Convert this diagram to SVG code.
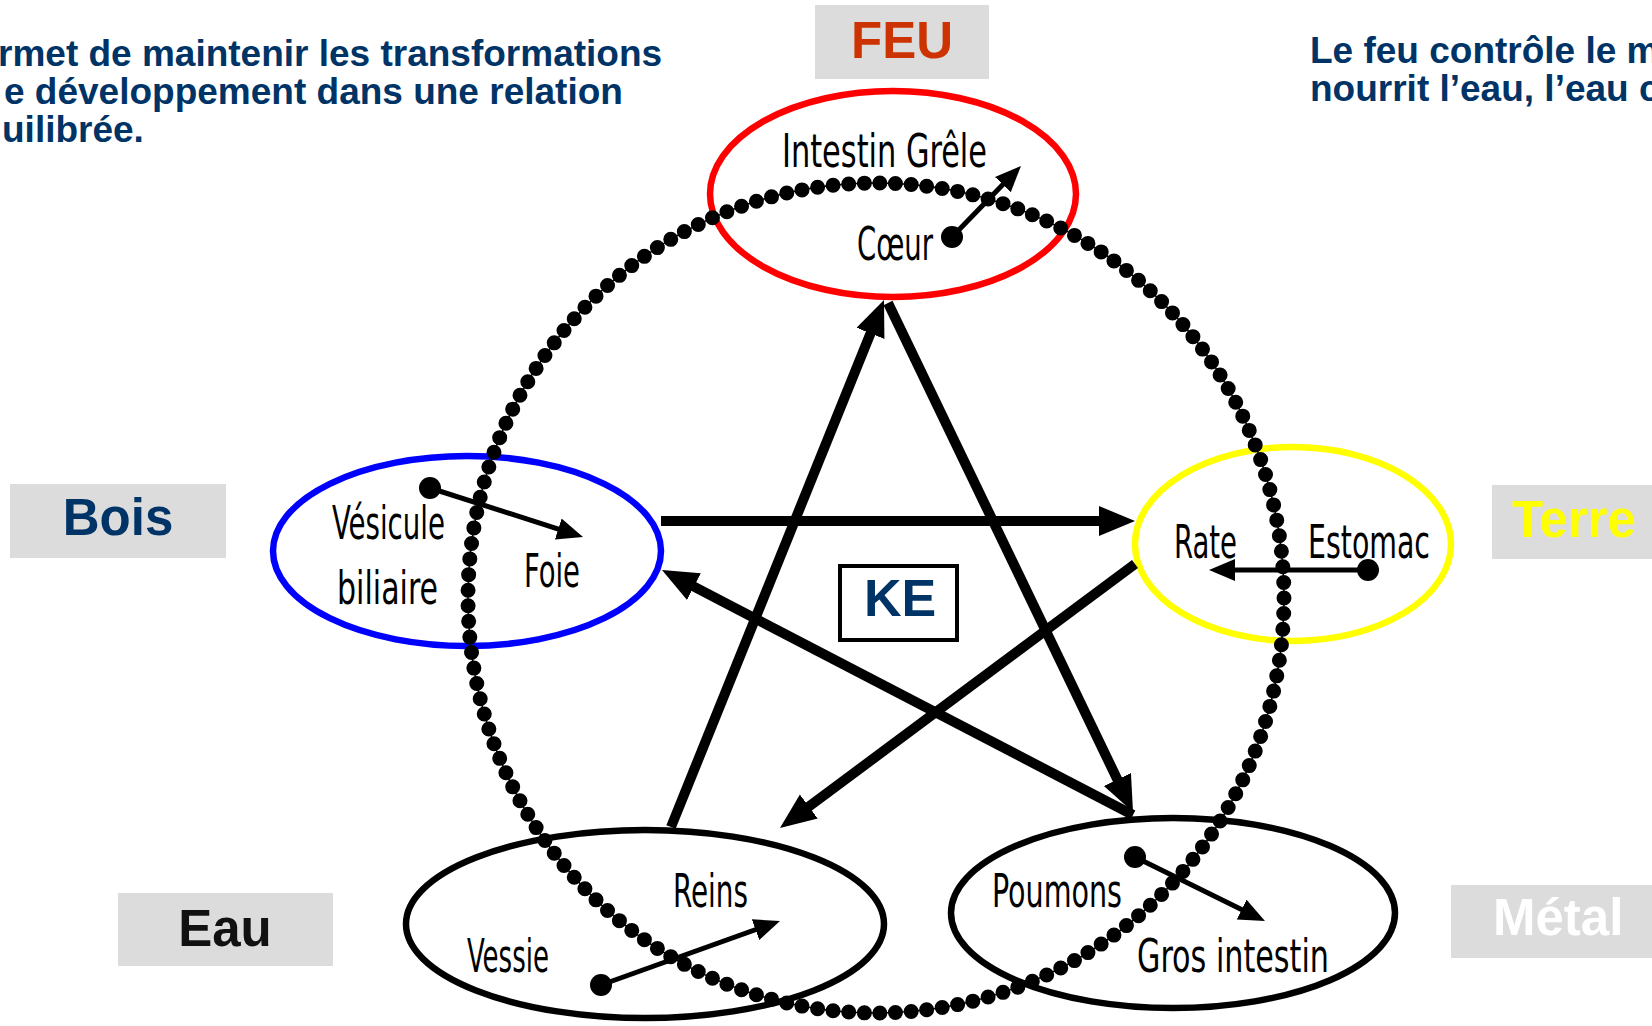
<svg xmlns="http://www.w3.org/2000/svg" width="1652" height="1026" viewBox="0 0 1652 1026">
<style>
.hdr{font-family:"Liberation Sans",Arial,sans-serif;font-weight:bold;font-size:37px;fill:#003366}
.lbl{font-family:"Liberation Sans",Arial,sans-serif;font-weight:bold;font-size:51px}
.box{fill:#DCDCDC}
.org{font-family:"Liberation Sans Narrow","DejaVu Sans Condensed","Liberation Sans",sans-serif;font-size:46px;fill:#000}
.ell{fill:none;stroke-width:6.5}
.star{stroke:#000;stroke-width:10;fill:none;marker-end:url(#bigHead)}
.small{stroke:#000;stroke-width:5;fill:none;marker-end:url(#smallHead)}
.dot{fill:#000}
</style>
<defs>
<marker id="bigHead" markerUnits="userSpaceOnUse" markerWidth="40" markerHeight="34" refX="20" refY="15" orient="auto" viewBox="0 0 40 34">
<path d="M0,0 L36,15 L0,30 z" fill="#000"/>
</marker>
<marker id="smallHead" markerUnits="userSpaceOnUse" markerWidth="30" markerHeight="26" refX="14" refY="11" orient="auto" viewBox="0 0 30 26">
<path d="M0,0 L26,11 L0,22 z" fill="#000"/>
</marker>
</defs>
<rect width="1652" height="1026" fill="#fff"/>

<g id="text-left">
<text class="hdr" x="-2" y="66">rmet de maintenir les transformations</text>
<text class="hdr" x="4" y="104">e développement dans une relation</text>
<text class="hdr" x="2" y="142">uilibrée.</text>
</g>
<g id="text-right">
<text class="hdr" x="1310" y="63">Le feu contrôle le m</text>
<text class="hdr" x="1310" y="101">nourrit l’eau, l’eau c</text>
</g>

<g id="label-feu"><rect class="box" x="815" y="5" width="174" height="74"/><text class="lbl" x="902" y="58" text-anchor="middle" fill="#CC3300">FEU</text></g>
<g id="label-bois"><rect class="box" x="10" y="484" width="216" height="74"/><text class="lbl" x="118" y="535" text-anchor="middle" fill="#003366">Bois</text></g>
<g id="label-terre"><rect class="box" x="1492" y="485" width="170" height="74"/><text class="lbl" x="1512" y="537" fill="#FFFF00">Terre</text></g>
<g id="label-eau"><rect class="box" x="118" y="893" width="215" height="73"/><text class="lbl" x="225" y="946" text-anchor="middle" fill="#111">Eau</text></g>
<g id="label-metal"><rect class="box" x="1451" y="885" width="211" height="73"/><text class="lbl" x="1493" y="935" fill="#fff">Métal</text></g>

<g id="node-feu">
<ellipse class="ell" cx="893" cy="194" rx="183" ry="103" stroke="#FF0000"/>
</g>
<g id="node-bois">
<ellipse class="ell" cx="467" cy="551" rx="194" ry="95" stroke="#0000FF"/>
</g>
<g id="node-terre">
<ellipse class="ell" cx="1293" cy="544" rx="158" ry="97" stroke="#FFFF00"/>
</g>
<g id="node-eau">
<ellipse class="ell" cx="645" cy="924" rx="239" ry="94" stroke="#000"/>
</g>
<g id="node-metal">
<ellipse class="ell" cx="1173" cy="913" rx="222" ry="95" stroke="#000"/>
</g>

<g id="connectors">
<g id="sheng-cycle">
<ellipse cx="876" cy="598" rx="408" ry="415" fill="none" stroke="#000" stroke-width="1.5"/>
<ellipse cx="876" cy="598" rx="408" ry="415" fill="none" stroke="#000" stroke-width="15" stroke-linecap="round" pathLength="165" stroke-dasharray="0 1"/>
</g>
<g id="ke-cycle">
<line class="star" x1="671" y1="827" x2="878" y2="314.8"/>
<line class="star" x1="888" y1="303" x2="1126.1" y2="797.6"/>
<line class="star" x1="1133" y1="815" x2="676.2" y2="577.4"/>
<line class="star" x1="661" y1="521" x2="1119" y2="521"/>
<line class="star" x1="1135" y1="564" x2="792.8" y2="818.5"/>
</g>
</g>

<g id="organs-feu">
<text class="org" x="782" y="167" textLength="205" lengthAdjust="spacingAndGlyphs">Intestin  Grêle</text>
<text class="org" x="857" y="260" textLength="76" lengthAdjust="spacingAndGlyphs">Cœur</text>
<line class="small" x1="952" y1="237" x2="1012.6" y2="174.6"/>
<circle class="dot" cx="952" cy="237" r="11"/>
</g>
<g id="organs-bois">
<text class="org" x="332" y="539" textLength="113" lengthAdjust="spacingAndGlyphs">Vésicule</text>
<text class="org" x="337" y="604" textLength="101" lengthAdjust="spacingAndGlyphs">biliaire</text>
<text class="org" x="524" y="587" textLength="56" lengthAdjust="spacingAndGlyphs">Foie</text>
<line class="small" x1="430" y1="488" x2="571.6" y2="533.3"/>
<circle class="dot" cx="430" cy="488" r="11"/>
</g>
<g id="organs-terre">
<text class="org" x="1174" y="558" textLength="63" lengthAdjust="spacingAndGlyphs">Rate</text>
<text class="org" x="1308" y="558" textLength="122" lengthAdjust="spacingAndGlyphs">Estomac</text>
<line class="small" x1="1368" y1="570" x2="1221" y2="570"/>
<circle class="dot" cx="1368" cy="570" r="11"/>
</g>
<g id="organs-eau">
<text class="org" x="673" y="907" textLength="75" lengthAdjust="spacingAndGlyphs">Reins</text>
<text class="org" x="467" y="972" textLength="82" lengthAdjust="spacingAndGlyphs">Vessie</text>
<line class="small" x1="601" y1="985" x2="768.7" y2="925"/>
<circle class="dot" cx="601" cy="985" r="11"/>
</g>
<g id="organs-metal">
<text class="org" x="992" y="907" textLength="130" lengthAdjust="spacingAndGlyphs">Poumons</text>
<text class="org" x="1137" y="972" textLength="192" lengthAdjust="spacingAndGlyphs">Gros  intestin</text>
<line class="small" x1="1135" y1="857" x2="1254.2" y2="915.7"/>
<circle class="dot" cx="1135" cy="857" r="11"/>
</g>

<g id="node-ke">
<rect x="840" y="566" width="117" height="74" fill="#fff" stroke="#000" stroke-width="4"/>
<text x="900" y="616" text-anchor="middle" style="font-family:'Liberation Sans',Arial,sans-serif;font-weight:bold;font-size:52px;fill:#003366">KE</text>
</g>
</svg>
